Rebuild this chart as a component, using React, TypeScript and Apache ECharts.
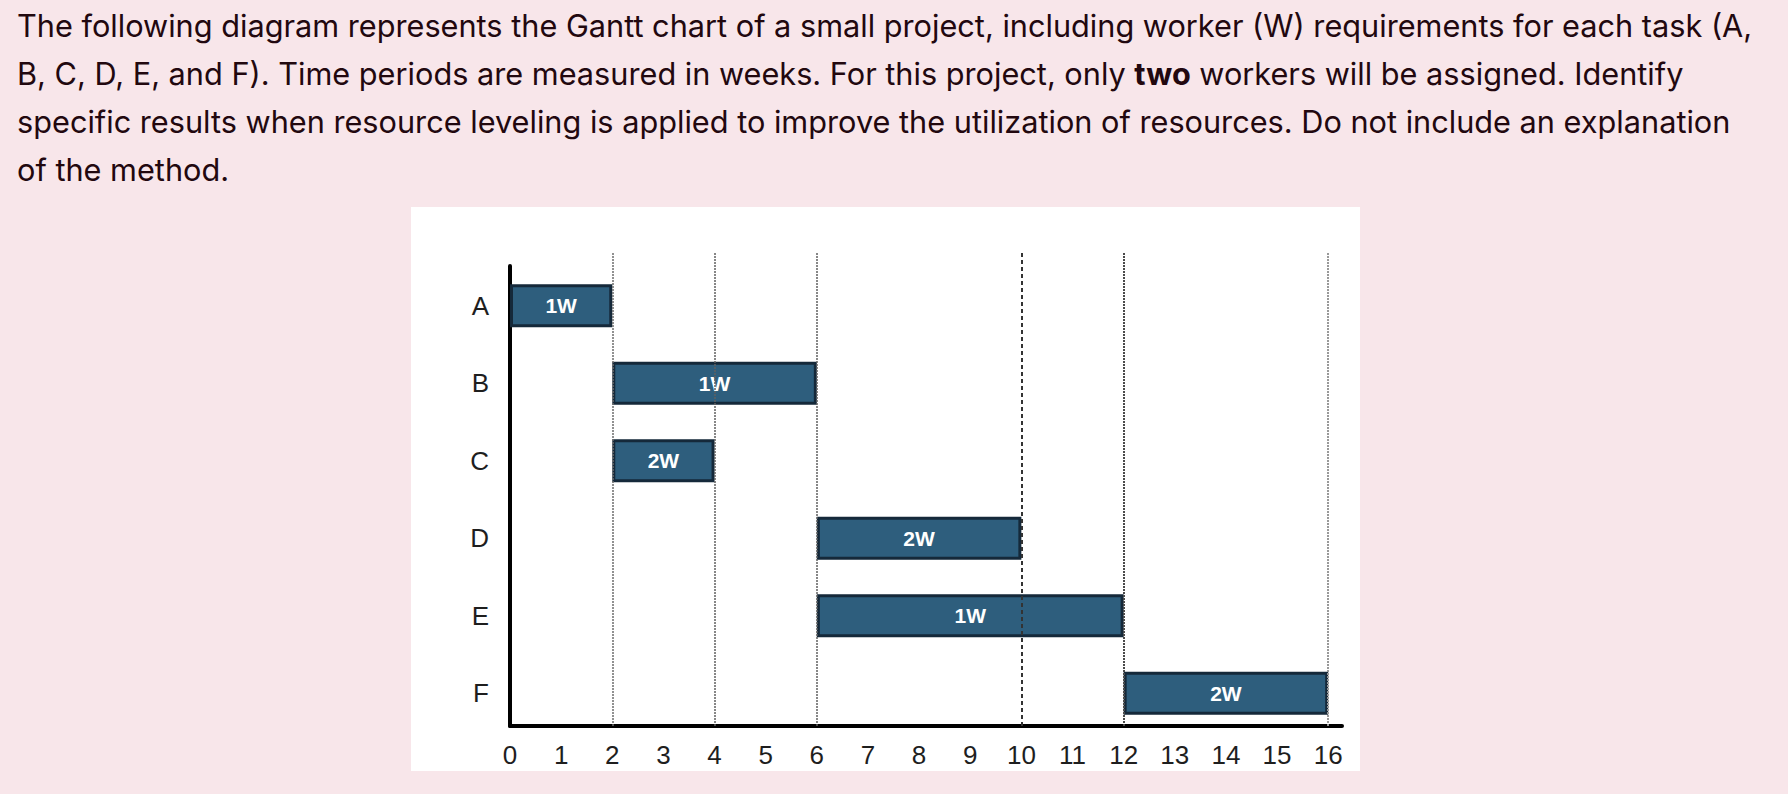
import React, { useEffect, useRef } from 'react';
import * as echarts from 'echarts';

// ---------- data ----------
const tasks = ['A', 'B', 'C', 'D', 'E', 'F'];
const startWeeks = [0, 2, 2, 6, 6, 12];
const durationWeeks = [2, 4, 2, 4, 6, 4];
const workerLabels = ['1W', '1W', '2W', '2W', '1W', '2W'];
const weekMin = 0;
const weekMax = 16;
const guideWeeks = [2, 4, 6, 10, 12, 16];

const paragraphLines = [
  'The following diagram represents the Gantt chart of a small project, including worker (W) requirements for each task (A,',
  'B, C, D, E, and F). Time periods are measured in weeks. For this project, only {b|two} workers will be assigned. Identify',
  'specific results when resource leveling is applied to improve the utilization of resources. Do not include an explanation',
  'of the method.',
];

// ---------- styles / layout ----------
const W = 1788;
const H = 794;
const BG = '#f8e6ea';
const TEXT_COLOR = '#22080f';
const BAR_FILL = '#2e5e7d';
const BAR_BORDER = '#15293a';
const AXIS_LEFT = 510;
const AXIS_RIGHT = 446;
const AXIS_MAX = 16.27; // small overhang of the axis line past the last week
const PARA_FONT = 30.7;
const guideStyles = [
  { color: '#6e6e6e', width: 1.5, type: [2, 1] },
  { color: '#606060', width: 1.5, type: [2, 1] },
  { color: '#606060', width: 1.5, type: [2, 1] },
  { color: '#333333', width: 2, type: [4, 3] },
  { color: '#4a4a4a', width: 2, type: [2, 1] },
  { color: '#999999', width: 2, type: [2, 1] },
];
const isInt = (v: number) => Math.abs(v - Math.round(v)) < 1e-6;

export default function App() {
  const ref = useRef<HTMLDivElement>(null);

  useEffect(() => {
    if (!ref.current) return;
    const chart = echarts.init(ref.current, undefined, { renderer: 'svg', width: W, height: H });

    const baseX = { type: 'value', min: weekMin, max: AXIS_MAX };

    const option: any = {
      animation: false,
      backgroundColor: BG,
      grid: [
        { left: AXIS_LEFT, right: AXIS_RIGHT, top: 267, bottom: 62 },
        { left: AXIS_LEFT, right: AXIS_RIGHT, top: 252, bottom: 68 },
        { left: AXIS_LEFT, right: AXIS_RIGHT, top: 266, bottom: 68 },
      ],
      xAxis: [
        { ...baseX, gridIndex: 0, show: false },
        { ...baseX, gridIndex: 1, show: false },
        {
          ...baseX,
          gridIndex: 2,
          interval: 1,
          axisLine: { show: true, lineStyle: { color: '#000', width: 4 } },
          axisTick: { show: false },
          splitLine: { show: false },
          axisLabel: {
            margin: 16,
            fontSize: 26,
            color: '#1e1e1e',
            fontFamily: 'Liberation Sans, Arial, sans-serif',
            formatter: (v: number) => (isInt(v) && v <= weekMax ? String(Math.round(v)) : ''),
          },
        },
      ],
      yAxis: [
        {
          type: 'category',
          gridIndex: 0,
          data: tasks,
          inverse: true,
          axisLine: { show: false },
          axisTick: { show: false },
          splitLine: { show: false },
          axisLabel: {
            margin: 21,
            fontSize: 26,
            color: '#1e1e1e',
            fontFamily: 'Liberation Sans, Arial, sans-serif',
          },
        },
        { type: 'value', gridIndex: 1, min: 0, max: 1, show: false },
        {
          type: 'value',
          gridIndex: 2,
          min: 0,
          max: 1,
          axisLine: { show: true, lineStyle: { color: '#000', width: 4 } },
          axisTick: { show: false },
          axisLabel: { show: false },
          splitLine: { show: false },
        },
      ],
      series: [
        {
          type: 'bar',
          name: 'start',
          xAxisIndex: 0,
          yAxisIndex: 0,
          stack: 'gantt',
          silent: true,
          barWidth: 43,
          itemStyle: { color: 'transparent' },
          data: startWeeks,
        },
        {
          type: 'bar',
          name: 'duration',
          xAxisIndex: 0,
          yAxisIndex: 0,
          stack: 'gantt',
          barWidth: 43,
          itemStyle: { color: BAR_FILL, borderColor: BAR_BORDER, borderWidth: 3 },
          label: {
            show: true,
            position: 'inside',
            color: '#ffffff',
            fontWeight: 'bold',
            fontSize: 21,
            fontFamily: 'Liberation Sans, Arial, sans-serif',
            formatter: (p: any) => workerLabels[p.dataIndex],
          },
          data: durationWeeks,
        },
        {
          type: 'line',
          name: 'guides',
          xAxisIndex: 1,
          yAxisIndex: 1,
          data: [],
          z: 5,
          markLine: {
            silent: true,
            symbol: 'none',
            label: { show: false },
            data: guideWeeks.map((w, i) => ({ xAxis: w, lineStyle: guideStyles[i] })),
          },
        },
      ],
      graphic: [
        {
          type: 'rect',
          z: -10,
          silent: true,
          shape: { x: 411, y: 207, width: 949, height: 564 },
          style: { fill: '#ffffff' },
        },
        ...paragraphLines.map((line, i) => ({
          type: 'text',
          x: 17,
          y: 25 + i * 48,
          silent: true,
          style: {
            text: line,
            fill: TEXT_COLOR,
            fontSize: PARA_FONT,
            fontFamily: 'Inter, sans-serif',
            verticalAlign: 'middle',
            rich: {
              b: { fontWeight: 'bold', fontSize: PARA_FONT, fontFamily: 'Inter, sans-serif', fill: TEXT_COLOR },
            },
          },
        })),
      ],
    };

    chart.setOption(option);
    return () => chart.dispose();
  }, []);

  return (
    <div
      ref={ref}
      style={{ position: 'absolute', left: 0, top: 0, width: W, height: H, background: BG }}
    />
  );
}
